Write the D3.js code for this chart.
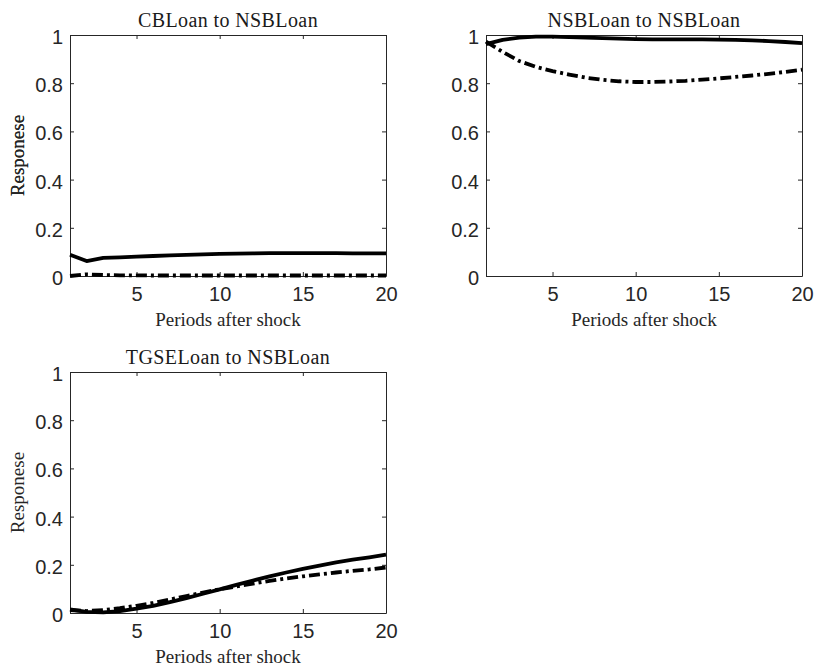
<!DOCTYPE html>
<html>
<head>
<meta charset="utf-8">
<script src="https://cdn.jsdelivr.net/npm/d3@7"></script>
<style>
  body { margin: 0; background: #fff; }
  svg { display: block; }
</style>
</head>
<body>
<svg></svg>
<script>
var width = 815,
	height = 666;

// periods after shock
var periods = d3.range(1, 21);

// responses (solid = point estimate, dash-dot = second series)
var cbSolid   = [0.088, 0.062, 0.075, 0.077, 0.080, 0.083, 0.086, 0.088, 0.090, 0.092,
                 0.093, 0.094, 0.095, 0.095, 0.095, 0.095, 0.095, 0.094, 0.094, 0.094];
var cbDash    = [0.000, 0.007, 0.004, 0.003, 0.003, 0.002, 0.002, 0.002, 0.002, 0.002,
                 0.002, 0.002, 0.002, 0.002, 0.002, 0.002, 0.002, 0.002, 0.002, 0.002];
var nsbSolid  = [0.962, 0.980, 0.989, 0.993, 0.993, 0.991, 0.989, 0.987, 0.985, 0.983,
                 0.982, 0.982, 0.982, 0.982, 0.981, 0.980, 0.978, 0.975, 0.971, 0.966];
var nsbDash   = [0.972, 0.930, 0.892, 0.868, 0.850, 0.836, 0.823, 0.814, 0.808, 0.805,
                 0.805, 0.807, 0.810, 0.815, 0.820, 0.826, 0.832, 0.839, 0.847, 0.856];
var tgseSolid = [0.015, 0.005, 0.003, 0.008, 0.018, 0.030, 0.045, 0.062, 0.080, 0.098,
                 0.117, 0.135, 0.152, 0.168, 0.183, 0.197, 0.210, 0.221, 0.231, 0.242];
var tgseDash  = [0.012, 0.008, 0.012, 0.020, 0.030, 0.042, 0.056, 0.070, 0.085, 0.098,
                 0.110, 0.122, 0.133, 0.143, 0.152, 0.160, 0.168, 0.175, 0.181, 0.189];

var titles = ["CBLoan to NSBLoan", "NSBLoan to NSBLoan", "TGSELoan to NSBLoan"];
var xTicks = [5, 10, 15, 20];
var yTicks = [0, 0.2, 0.4, 0.6, 0.8, 1];

var panels = [
	{ title: titles[0], solid: cbSolid,   dash: cbDash,   left: 70,  top: 35 },
	{ title: titles[1], solid: nsbSolid,  dash: nsbDash,  left: 486, top: 35 },
	{ title: titles[2], solid: tgseSolid, dash: tgseDash, left: 70,  top: 372 }
];

var pw = 316, ph = 241, tick = 4;
var axisColor = "#262626";
var serif = "'Liberation Serif', 'Times New Roman', serif";

var svg = d3.select("svg")
			.attr("width", width)
			.attr("height", height);

panels.forEach(function(p) {
	var x = d3.scaleLinear().domain([1, 20]).range([0, pw]);
	var y = d3.scaleLinear().domain([0, 1]).range([ph, 0]);

	var g = svg.append("g")
		.attr("transform", "translate(" + p.left + "," + p.top + ")");

	// mirrored inward ticks on all four sides
	var axes = [
		{ ax: d3.axisBottom(x).tickValues(xTicks), t: "translate(0," + ph + ")", labels: true },
		{ ax: d3.axisTop(x).tickValues(xTicks), t: "translate(0,0)", labels: false },
		{ ax: d3.axisLeft(y).tickValues(yTicks).tickFormat(d3.format("")), t: "translate(0,0)", labels: true },
		{ ax: d3.axisRight(y).tickValues(yTicks), t: "translate(" + pw + ",0)", labels: false }
	];

	axes.forEach(function(a, i) {
		var ag = g.append("g").attr("transform", a.t).call(a.ax.tickSizeOuter(0));
		ag.select(".domain").attr("stroke", axisColor).attr("stroke-width", 1);
		ag.selectAll(".tick line")
			.attr("stroke", axisColor)
			.attr("y2", i == 0 ? -tick : (i == 1 ? tick : 0))
			.attr("x2", i == 2 ? tick : (i == 3 ? -tick : 0));
		if (!a.labels) {
			ag.selectAll(".tick text").remove();
		} else {
			ag.selectAll(".tick text")
				.attr("fill", axisColor)
				.style("font-family", "'Liberation Sans', Arial, sans-serif")
				.style("font-size", "20px");
			if (i == 0) ag.selectAll(".tick text").attr("y", 11);
			if (i == 2) ag.selectAll(".tick text").attr("x", -7).attr("dy", "0.42em");
		}
	});

	var line = d3.line()
		.x(function(d, i) { return x(periods[i]); })
		.y(function(d) { return y(d); });

	g.append("path")
		.attr("d", line(p.dash))
		.attr("fill", "none")
		.attr("stroke", "#000")
		.attr("stroke-width", 3.8)
		.attr("stroke-dasharray", "11,4,3,4");

	g.append("path")
		.attr("d", line(p.solid))
		.attr("fill", "none")
		.attr("stroke", "#000")
		.attr("stroke-width", 3.8)
		.attr("stroke-linejoin", "round");

	// title and labels
	g.append("text")
		.attr("x", pw / 2)
		.attr("y", -8)
		.attr("text-anchor", "middle")
		.style("font-family", serif)
		.style("font-size", "20px")
		.style("letter-spacing", "0.4px")
		.attr("fill", "#1a1a1a")
		.text(p.title);

	g.append("text")
		.attr("x", pw / 2)
		.attr("y", ph + 50)
		.attr("text-anchor", "middle")
		.style("font-family", serif)
		.style("font-size", "19px")
		.attr("fill", axisColor)
		.text("Periods after shock");

	g.append("text")
		.attr("transform", "translate(" + (24 - p.left) + "," + (ph / 2) + ") rotate(-90)")
		.attr("text-anchor", "middle")
		.style("font-family", serif)
		.style("font-size", "19px")
		.attr("fill", axisColor)
		.text("Responese");
});
</script>
</body>
</html>
